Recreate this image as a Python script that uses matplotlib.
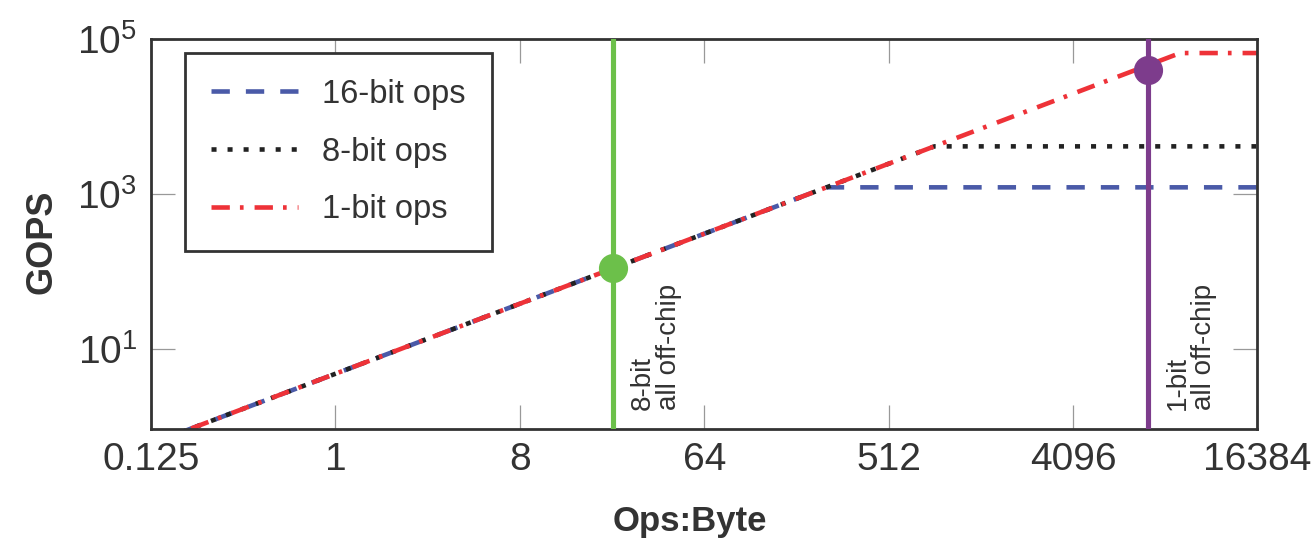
import matplotlib
matplotlib.use("Agg")
import matplotlib.pyplot as plt

plt.rcParams["font.family"] = ["Liberation Sans", "DejaVu Sans"]
plt.rcParams["mathtext.fontset"] = "custom"
plt.rcParams["mathtext.rm"] = "Liberation Sans"

# roofline points: start, knee, end (Ops:Byte -> GOPS)
x_16bit = [0.125, 254, 32768]
y_16bit = [0.6, 1220, 1220]
x_8bit = [0.125, 858, 32768]
y_8bit = [0.6, 4120, 4120]
x_1bit = [0.125, 13700, 32768]
y_1bit = [0.6, 65900, 65900]

# "all off-chip" markers
green_x, green_y = 23, 110
purple_x, purple_y = 9540, 40200

xticks = [0.125, 1, 8, 64, 512, 4096, 32768]
xtick_labels = ["0.125", "1", "8", "64", "512", "4096", "16384"]
yticks = [10, 1000, 100000]
ytick_labels = [r"$\mathregular{10^{1}}$", r"$\mathregular{10^{3}}$", r"$\mathregular{10^{5}}$"]

text_col = "#333333"

fig = plt.figure(figsize=(13.13, 5.47), dpi=100)
ax = fig.add_axes([0.115, 0.2157, 0.8427, 0.713])

lw = 3.3
ax.plot(x_16bit, y_16bit, color="#4a5aa8", lw=lw, dashes=(4.0, 3.5),
        dash_capstyle="butt", label="16-bit ops", zorder=2)
ax.plot(x_8bit, y_8bit, color="#222222", lw=lw, dashes=(1.1, 2.4),
        dash_capstyle="butt", label="8-bit ops", zorder=2)
ax.plot(x_1bit, y_1bit, color="#ee3238", lw=lw, dashes=(4.0, 2.2, 0.8, 2.4),
        dash_capstyle="butt", label="1-bit ops", zorder=2)

ax.axvline(green_x, color="#6cc04a", lw=3.7, zorder=3)
ax.axvline(purple_x, color="#7d3c8c", lw=3.7, zorder=3)
ax.plot([green_x], [green_y], "o", color="#6cc04a", ms=20, zorder=4)
ax.plot([purple_x], [purple_y], "o", color="#7d3c8c", ms=20, zorder=4)

for xv in [green_x, purple_x]:
    ax.annotate("8-bit\nall off-chip" if xv == green_x else "1-bit\nall off-chip",
                xy=(xv, 0.049), xycoords=ax.get_xaxis_transform(),
                xytext=(12, 0), textcoords="offset points",
                rotation=90, ha="left", va="bottom", multialignment="left",
                fontsize=20, color=text_col, linespacing=1.0)

ax.set_xscale("log", base=2)
ax.set_yscale("log")
ax.set_xlim(0.125, 32768)
ax.set_ylim(0.93, 1.0e5)
ax.set_xticks(xticks)
ax.set_xticklabels(xtick_labels)
ax.set_yticks(yticks)
ax.set_yticklabels(ytick_labels)
ax.minorticks_off()

ax.tick_params(axis="both", which="major", direction="in", length=17, width=0.9,
               color="#999999", labelsize=28, labelcolor=text_col,
               top=True, right=True)
ax.tick_params(axis="x", pad=9)
ax.tick_params(axis="y", pad=10)

for sp in ax.spines.values():
    sp.set_color("#333333")
    sp.set_linewidth(2.0)

ax.set_xlabel("Ops:Byte", fontsize=25, fontweight="bold", color=text_col)
ax.set_ylabel("GOPS", fontsize=26, fontweight="bold", color=text_col)
ax.xaxis.set_label_coords(0.487, -0.195)
ax.yaxis.set_label_coords(-0.083, 0.48)

leg = ax.legend(loc="upper left", bbox_to_anchor=(0.031, 0.965), borderaxespad=0,
                fontsize=23.5, handlelength=2.64, handletextpad=0.75,
                borderpad=0.8, labelspacing=0.82, fancybox=False, framealpha=1)
leg.get_frame().set_edgecolor("#333333")
leg.get_frame().set_linewidth(2.0)
for t in leg.get_texts():
    t.set_color(text_col)

fig.savefig("out.png", dpi=100)
